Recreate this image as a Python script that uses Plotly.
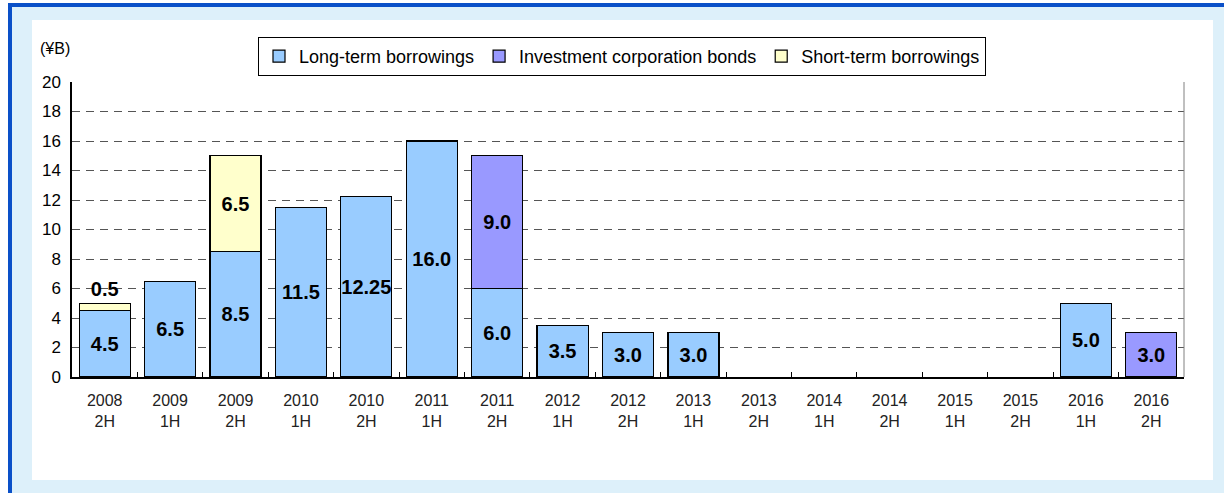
import plotly.graph_objects as go

categories = ["2008<br>2H", "2009<br>1H", "2009<br>2H", "2010<br>1H", "2010<br>2H",
              "2011<br>1H", "2011<br>2H", "2012<br>1H", "2012<br>2H", "2013<br>1H",
              "2013<br>2H", "2014<br>1H", "2014<br>2H", "2015<br>1H", "2015<br>2H",
              "2016<br>1H", "2016<br>2H"]
long_term = [4.5, 6.5, 8.5, 11.5, 12.25, 16.0, 6.0, 3.5, 3.0, 3.0,
             None, None, None, None, None, 5.0, None]
bonds = [None, None, None, None, None, None, 9.0, None, None, None,
         None, None, None, None, None, None, 3.0]
short_term = [0.5, None, 6.5, None, None, None, None, None, None, None,
              None, None, None, None, None, None, None]
y_ticks = list(range(0, 21, 2))

W, H = 1224, 493
L, R, T, B = 72, 1184, 82, 377


def px_x(p):
    return (p - L) / (R - L)


def px_y(p):
    return (B - p) / (B - T)


def fmt(v):
    if v is None:
        return ""
    return f"{v:.2f}" if round(v * 10) != v * 10 else f"{v:.1f}"


label_font = dict(family="Arial, Liberation Sans", size=20, color="black", weight="bold")
line = dict(color="black", width=1.2)

fig = go.Figure()
fig.add_trace(go.Bar(x=categories, y=long_term, name="Long-term borrowings",
                     marker=dict(color="#99CCFF", line=line),
                     text=[fmt(v) for v in long_term], textposition="inside",
                     insidetextanchor="middle", constraintext="none", textangle=0,
                     textfont=label_font, hoverinfo="skip"))
fig.add_trace(go.Bar(x=categories, y=bonds, name="Investment corporation bonds",
                     marker=dict(color="#9999FF", line=line),
                     text=[fmt(v) for v in bonds], textposition="inside",
                     insidetextanchor="middle", constraintext="none", textangle=0,
                     textfont=label_font, hoverinfo="skip"))
fig.add_trace(go.Bar(x=categories, y=short_term, name="Short-term borrowings",
                     marker=dict(color="#FFFFCC", line=line),
                     text=[fmt(v) for v in short_term],
                     textposition=["outside" if (v is not None and v < 1) else "inside" for v in short_term],
                     insidetextanchor="middle", constraintext="none", textangle=0,
                     textfont=label_font, hoverinfo="skip"))

shapes = [
    dict(type="rect", xref="paper", yref="paper", layer="below",
         x0=px_x(12), x1=px_x(W), y0=px_y(H), y1=px_y(7),
         fillcolor="#DDF0FA", line=dict(width=0)),
    dict(type="rect", xref="paper", yref="paper", layer="below",
         x0=px_x(8), x1=px_x(12), y0=px_y(H), y1=px_y(3),
         fillcolor="#0A50C8", line=dict(width=0)),
    dict(type="rect", xref="paper", yref="paper", layer="below",
         x0=px_x(8), x1=px_x(W), y0=px_y(7), y1=px_y(3),
         fillcolor="#0A50C8", line=dict(width=0)),
    dict(type="rect", xref="paper", yref="paper", layer="below",
         x0=px_x(32), x1=px_x(1213), y0=px_y(480), y1=px_y(20),
         fillcolor="white", line=dict(width=0)),
    dict(type="line", xref="paper", yref="paper", layer="above",
         x0=1, x1=1, y0=0, y1=1, line=dict(color="#808080", width=1)),
]

fig.update_layout(
    width=W, height=H,
    margin=dict(l=L, r=W - R, t=T, b=H - B),
    paper_bgcolor="white", plot_bgcolor="white",
    barmode="stack", bargap=0.22,
    font=dict(family="Arial, Liberation Sans", color="black"),
    showlegend=True,
    legend=dict(orientation="h", x=px_x(258), y=px_y(37), xanchor="left", yanchor="top",
                bgcolor="white", bordercolor="black", borderwidth=1,
                traceorder="normal",
                font=dict(family="Arial, Liberation Sans", size=18, color="black"),
                itemwidth=30, tracegroupgap=0),
    shapes=shapes,
    annotations=[dict(text="(¥B)", xref="paper", yref="paper", x=px_x(55), y=px_y(48),
                      xanchor="center", yanchor="middle", showarrow=False,
                      font=dict(size=16, color="black"))],
)
fig.update_xaxes(showline=True, linecolor="black", linewidth=1.5,
                 ticks="inside", tickson="boundaries", ticklen=5, tickcolor="black",
                 tickfont=dict(size=16, color="#222222"), ticklabelstandoff=8,
                 showgrid=False)
fig.update_yaxes(range=[0, 20], tickvals=y_ticks, showline=True, linecolor="black",
                 linewidth=1.5, ticks="", showgrid=True, gridcolor="#555555",
                 griddash="8px,6px", gridwidth=1, zeroline=False,
                 tickfont=dict(size=17, color="black"), ticklabelstandoff=6)

fig.write_html("out.html", config={"displayModeBar": False},
               post_script="document.body.style.margin='0';")
